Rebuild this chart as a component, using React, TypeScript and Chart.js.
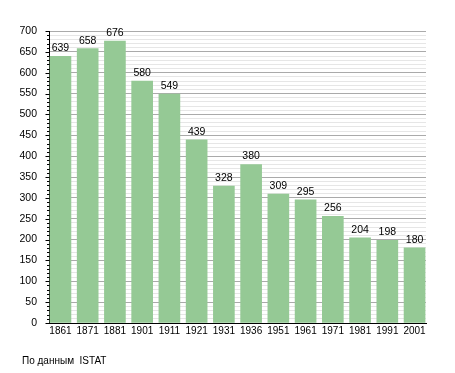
import { useEffect, useRef } from 'react';
import { Chart, registerables } from 'chart.js';

Chart.register(...registerables);

const categories = ['1861', '1871', '1881', '1901', '1911', '1921', '1931', '1936', '1951', '1961', '1971', '1981', '1991', '2001'];
const population = [639, 658, 676, 580, 549, 439, 328, 380, 309, 295, 256, 204, 198, 180];
const yMin = 0;
const yMax = 700;
const yMinorStep = 10;
const yMajorStep = 50;
const sourceNote = 'По данным  ISTAT';

const FONT = '"Liberation Sans", Arial, sans-serif';

const extrasPlugin = {
  id: 'extras',
  afterDatasetsDraw(chart: any) {
    const ctx = chart.ctx;
    const meta = chart.getDatasetMeta(0);
    ctx.save();
    ctx.fillStyle = '#000';
    ctx.font = `10.5px ${FONT}`;
    ctx.textAlign = 'center';
    ctx.textBaseline = 'alphabetic';
    meta.data.forEach((bar: any, i: number) => {
      ctx.fillText(String(population[i]), bar.x, bar.y - 5);
    });
    ctx.restore();
  },
  afterDraw(chart: any) {
    const ctx = chart.ctx;
    const y = chart.scales.y;
    const axisX = Math.round(chart.chartArea.left) + 0.5;
    ctx.save();
    ctx.strokeStyle = '#000';
    ctx.lineWidth = 1;
    ctx.beginPath();
    y.ticks.forEach((t: any) => {
      const py = Math.round(y.getPixelForValue(t.value)) + 0.5;
      const len = t.value % yMajorStep === 0 ? 4 : 2.5;
      ctx.moveTo(axisX - len, py);
      ctx.lineTo(axisX, py);
    });
    ctx.stroke();
    ctx.fillStyle = '#000';
    ctx.font = `10px ${FONT}`;
    ctx.textAlign = 'left';
    ctx.textBaseline = 'middle';
    ctx.fillText(sourceNote, 22, 361);
    ctx.restore();
  },
};

export default function App() {
  const ref = useRef<HTMLCanvasElement>(null);
  useEffect(() => {
    Chart.defaults.font.family = FONT;
    const chart = new Chart(ref.current!, {
      type: 'bar',
      data: {
        datasets: [
          {
            data: population.map((v, i) => ({ x: i, y: v })),
            backgroundColor: '#95c995',
            borderWidth: 0,
            barThickness: 21,
          },
        ],
      },
      options: {
        animation: false,
        responsive: false,
        devicePixelRatio: 1,
        layout: { padding: { left: 0, right: 29, top: 31, bottom: 30 } },
        plugins: { legend: { display: false }, tooltip: { enabled: false } },
        scales: {
          x: {
            type: 'linear',
            offset: false,
            min: -0.42,
            max: categories.length - 1 + 0.42,
            afterFit: (s: any) => {
              s.height = 20;
            },
            grid: { display: false, offset: false, drawTicks: false },
            border: { display: true, color: '#000', width: 1 },
            ticks: {
              stepSize: 1,
              includeBounds: false,
              autoSkip: false,
              maxRotation: 0,
              padding: 2,
              color: '#000',
              font: { size: 10, family: FONT },
              callback: (v: any) => (Number.isInteger(v) && categories[v] !== undefined ? categories[v] : ''),
            },
          },
          y: {
            min: yMin,
            max: yMax,
            afterFit: (s: any) => {
              s.width = 49;
            },
            grid: {
              drawTicks: false,
              lineWidth: 1,
              color: (c: any) => (c.tick && c.tick.value % yMajorStep === 0 ? '#aaaaaa' : '#e6e6e6'),
            },
            border: { color: '#000', width: 1 },
            ticks: {
              stepSize: yMinorStep,
              autoSkip: false,
              padding: 12,
              color: '#000',
              font: { size: 10.5, family: FONT },
              callback: (v: any) => (v % yMajorStep === 0 ? String(v) : ''),
            },
          },
        },
      },
      plugins: [extrasPlugin],
    } as any);
    return () => chart.destroy();
  }, []);
  return (
    <div style={{ position: 'fixed', left: 0, top: 0, width: 455, height: 373, background: '#fff' }}>
      <canvas ref={ref} width={455} height={373} style={{ display: 'block', width: 455, height: 373 }} />
    </div>
  );
}
